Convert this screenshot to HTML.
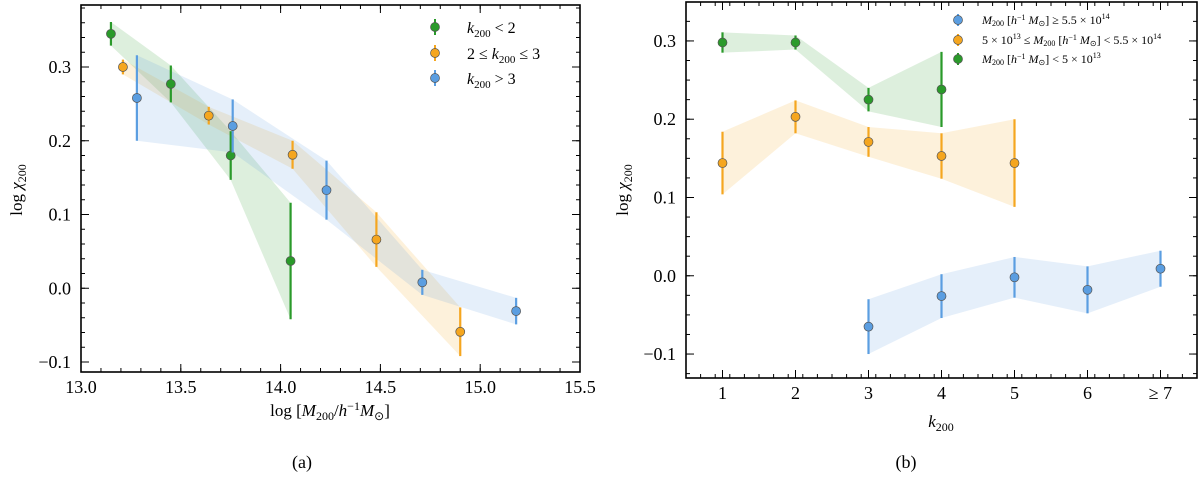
<!DOCTYPE html>
<html><head><meta charset="utf-8">
<style>
html,body{margin:0;padding:0;background:#fff;}
svg{display:block;font-family:"Liberation Serif",serif;}
</style></head>
<body>
<svg id="fig" width="1200" height="480" viewBox="0 0 1200 480" xmlns="http://www.w3.org/2000/svg"></svg>
<script>
// ---- Panel (a) data ----
const aGreenX=[13.15,13.45,13.75,14.05];
const aGreenY=[0.345,0.277,0.180,0.037];
const aGreenE=[0.016,0.025,0.033,0.079];
const aOrangeX=[13.21,13.64,14.06,14.48,14.90];
const aOrangeY=[0.300,0.234,0.181,0.066,-0.059];
const aOrangeE=[0.010,0.012,0.019,0.037,0.033];
const aBlueX=[13.28,13.76,14.23,14.71,15.18];
const aBlueY=[0.258,0.220,0.133,0.008,-0.031];
const aBlueE=[0.058,0.036,0.040,0.017,0.018];
const aXTicks=[13.0,13.5,14.0,14.5,15.0,15.5];
const aXTickLabels=["13.0","13.5","14.0","14.5","15.0","15.5"];
const aYTicks=[-0.1,0.0,0.1,0.2,0.3];
const aYTickLabels=["\u22120.1","0.0","0.1","0.2","0.3"];
// ---- Panel (b) data ----
const bGreenX=[1,2,3,4];
const bGreenY=[0.298,0.298,0.225,0.238];
const bGreenE=[0.013,0.009,0.015,0.048];
const bOrangeX=[1,2,3,4,5];
const bOrangeY=[0.144,0.203,0.171,0.153,0.144];
const bOrangeE=[0.040,0.021,0.019,0.029,0.056];
const bBlueX=[3,4,5,6,7];
const bBlueY=[-0.065,-0.026,-0.002,-0.018,0.009];
const bBlueE=[0.035,0.028,0.026,0.030,0.023];
const bXTicks=[1,2,3,4,5,6,7];
const bXTickLabels=["1","2","3","4","5","6","\u2265 7"];
const bYTicks=[-0.1,0.0,0.1,0.2,0.3];
const bYTickLabels=["\u22120.1","0.0","0.1","0.2","0.3"];

const NS="http://www.w3.org/2000/svg";
const svg=document.getElementById('fig');
const GREEN="#2a9a2a",ORANGE="#f5a61f",BLUE="#5b9ee1";
function mk(tag,attrs,parent){const e=document.createElementNS(NS,tag);for(const k in attrs)e.setAttribute(k,attrs[k]);(parent||svg).appendChild(e);return e;}

function panel(cfg){
  const g=mk('g',{});
  
  
  const L=cfg.L,R=cfg.R,T=cfg.T,B=cfg.B;
  const sx=v=>L+(v-cfg.x0)/(cfg.x1-cfg.x0)*(R-L);
  const sy=v=>B-(v-cfg.y0)/(cfg.y1-cfg.y0)*(B-T);
  cfg.series.forEach(s=>{
    let pts=s.x.map((x,i)=>sx(x)+','+sy(s.y[i]+s.e[i]));
    pts=pts.concat(s.x.map((x,i)=>sx(x)+','+sy(s.y[i]-s.e[i])).reverse());
    const p=mk('polygon',{points:pts.join(' '),fill:s.c,'fill-opacity':0.16,stroke:'none'},g);
    
    
  });
  cfg.series.forEach(s=>{
    s.x.forEach((x,i)=>{
      const l=mk('line',{x1:sx(x),x2:sx(x),y1:sy(s.y[i]+s.e[i]),y2:sy(s.y[i]-s.e[i]),stroke:s.c,'stroke-width':2.2},g);
      
      
      const c=mk('circle',{cx:sx(x),cy:sy(s.y[i]),r:4.5,fill:s.c,stroke:'#555','stroke-width':0.7},g);
      
      
    });
  });
  const fr=mk('rect',{x:L,y:T,width:R-L,height:B-T,fill:'none',stroke:'#000','stroke-width':1.6},g);
  
  
  const tk=mk('g',{stroke:'#000','stroke-width':1},g);
  
  
  for(let v=cfg.x0;v<=cfg.x1+1e-9;v+=cfg.xMinor){
    const X=sx(v);if(X<L-0.1||X>R+0.1)continue;
    mk('line',{x1:X,x2:X,y1:B,y2:B-4},tk);mk('line',{x1:X,x2:X,y1:T,y2:T+4},tk);
  }
  for(let v=Math.ceil(cfg.y0/cfg.yMinor)*cfg.yMinor;v<=cfg.y1+1e-9;v+=cfg.yMinor){
    const Y=sy(v);
    mk('line',{x1:L,x2:L+4,y1:Y,y2:Y},tk);mk('line',{x1:R,x2:R-4,y1:Y,y2:Y},tk);
  }
  cfg.xt.forEach((v,i)=>{
    const X=sx(v);
    mk('line',{x1:X,x2:X,y1:B,y2:B-8},tk);mk('line',{x1:X,x2:X,y1:T,y2:T+8},tk);
    const t=mk('text',{x:X,y:B+21,'text-anchor':'middle','font-size':18},g);t.textContent=cfg.xl[i];
    
    
  });
  cfg.yt.forEach((v,i)=>{
    const Y=sy(v);
    mk('line',{x1:L,x2:L+8,y1:Y,y2:Y},tk);mk('line',{x1:R,x2:R-8,y1:Y,y2:Y},tk);
    const t=mk('text',{x:L-10,y:Y+6,'text-anchor':'end','font-size':18},g);t.textContent=cfg.yl[i];
    
    
  });
  return g;
}

panel({name:'panel-a',L:81,R:580,T:5,B:372,x0:13.0,x1:15.5,y0:-0.1-10/737.5,y1:0.3+62/737.5,xMinor:0.1,yMinor:0.02,
  xt:aXTicks,xl:aXTickLabels,yt:aYTicks,yl:aYTickLabels,
  series:[{key:'k-lt-2',x:aGreenX,y:aGreenY,e:aGreenE,c:GREEN},{key:'k-2-3',x:aOrangeX,y:aOrangeY,e:aOrangeE,c:ORANGE},{key:'k-gt-3',x:aBlueX,y:aBlueY,e:aBlueE,c:BLUE}]});
panel({name:'panel-b',L:686,R:1197,T:2,B:378,x0:0.5,x1:7.5,y0:-0.1-24/784,y1:0.3+39/784,xMinor:0.2,yMinor:0.025,
  xt:bXTicks,xl:bXTickLabels,yt:bYTicks,yl:bYTickLabels,
  series:[{key:'m-low',x:bGreenX,y:bGreenY,e:bGreenE,c:GREEN},{key:'m-mid',x:bOrangeX,y:bOrangeY,e:bOrangeE,c:ORANGE},{key:'m-high',x:bBlueX,y:bBlueY,e:bBlueE,c:BLUE}]});

function legendMark(parent,x,y,c,h){
  mk('line',{x1:x,x2:x,y1:y-h,y2:y+h,stroke:c,'stroke-width':2},parent);
  mk('circle',{cx:x,cy:y,r:4.5,fill:c,stroke:'#555','stroke-width':0.7},parent);
}

(function(){
  const la=mk('g',{});
  
  
  legendMark(la,435,27,GREEN,8);legendMark(la,435,53,ORANGE,8);legendMark(la,435,78,BLUE,8);
  la.insertAdjacentHTML('beforeend',
   '<text x="467" y="33" font-size="16"><tspan font-style="italic">k</tspan><tspan font-size="11" dy="4">200</tspan><tspan dy="-4"> &lt; 2</tspan></text>'+
   '<text x="467" y="59" font-size="16">2 ≤ <tspan font-style="italic">k</tspan><tspan font-size="11" dy="4">200</tspan><tspan dy="-4"> ≤ 3</tspan></text>'+
   '<text x="467" y="84" font-size="16"><tspan font-style="italic">k</tspan><tspan font-size="11" dy="4">200</tspan><tspan dy="-4"> &gt; 3</tspan></text>');
  const lb=mk('g',{});
  
  
  legendMark(lb,958,20,BLUE,6);legendMark(lb,958,40,ORANGE,6);legendMark(lb,958,59,GREEN,6);
  const M='<tspan font-style="italic">M</tspan><tspan font-size="8" dy="2">200</tspan><tspan dy="-2"> [</tspan><tspan font-style="italic">h</tspan><tspan font-size="8" dy="-4">−1</tspan><tspan dy="4"> </tspan><tspan font-style="italic">M</tspan><tspan font-size="8" dy="2">⊙</tspan><tspan dy="-2">]</tspan>';
  lb.insertAdjacentHTML('beforeend',
   '<text x="982" y="24" font-size="12">'+M+' ≥ 5.5 × 10<tspan font-size="8" dy="-5">14</tspan></text>'+
   '<text x="982" y="44" font-size="12">5 × 10<tspan font-size="8" dy="-5">13</tspan><tspan dy="5"> ≤ </tspan>'+M+' &lt; 5.5 × 10<tspan font-size="8" dy="-5">14</tspan></text>'+
   '<text x="982" y="63" font-size="12">'+M+' &lt; 5 × 10<tspan font-size="8" dy="-5">13</tspan></text>');
  const t=mk('g',{});
  
  
  t.insertAdjacentHTML('beforeend',
   '<text x="330" y="416" font-size="17" text-anchor="middle">log [<tspan font-style="italic">M</tspan><tspan font-size="12" dy="4">200</tspan><tspan dy="-4">/</tspan><tspan font-style="italic">h</tspan><tspan font-size="12" dy="-6">−1</tspan><tspan font-style="italic" dy="6">M</tspan><tspan font-size="12" dy="4">⊙</tspan><tspan dy="-4">]</tspan></text>'+
   '<text transform="translate(22,190) rotate(-90)" font-size="17" text-anchor="middle">log <tspan font-style="italic">χ</tspan><tspan font-size="12" dy="4">200</tspan></text>'+
   '<text transform="translate(628,190) rotate(-90)" font-size="17" text-anchor="middle">log <tspan font-style="italic">χ</tspan><tspan font-size="12" dy="4">200</tspan></text>'+
   '<text x="941" y="427" font-size="17" text-anchor="middle"><tspan font-style="italic">k</tspan><tspan font-size="12" dy="4">200</tspan></text>'+
   '<text x="302" y="468" font-size="18" text-anchor="middle">(a)</text>'+
   '<text x="906" y="468" font-size="18" text-anchor="middle">(b)</text>');
})();
</script>
</body></html>
